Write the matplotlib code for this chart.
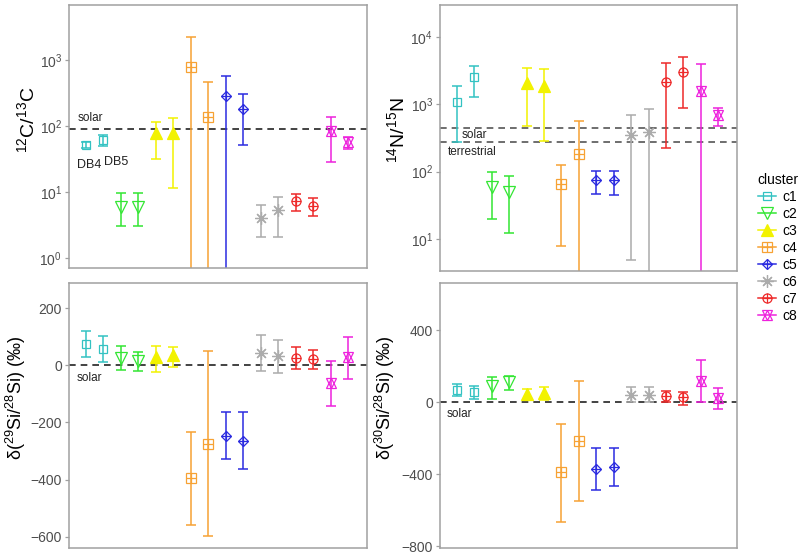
import numpy as np
import matplotlib
matplotlib.use("Agg")
import matplotlib.pyplot as plt
from matplotlib.lines import Line2D
from matplotlib.ticker import LogLocator, NullLocator, LogFormatterSciNotation, MultipleLocator

plt.rcParams['font.family'] = ['Liberation Sans', 'DejaVu Sans']
plt.rcParams['mathtext.fontset'] = 'custom'
plt.rcParams['mathtext.rm'] = 'Liberation Sans'
plt.rcParams['mathtext.it'] = 'Liberation Sans:italic'
plt.rcParams['mathtext.bf'] = 'Liberation Sans:bold'
plt.rcParams['mathtext.default'] = 'regular'

# two grains per cluster
clusters = ['c1', 'c2', 'c3', 'c4', 'c5', 'c6', 'c7', 'c8']
grain_cluster = ['c1', 'c1', 'c2', 'c2', 'c3', 'c3', 'c4', 'c4',
                 'c5', 'c5', 'c6', 'c6', 'c7', 'c7', 'c8', 'c8']

# 12C/13C
c_ratio = [51, 61, 6.0, 6.0, 77, 77, 793, 135, 285, 178, 4.1, 5.3, 7.3, 6.2, 84, 58]
c_lo = [46, 50, 3.1, 3.1, 32, 11.4, 0.1, 0.1, 0.1, 51.5, 2.1, 2.1, 5.2, 4.4, 28, 45]
c_hi = [57, 73, 9.5, 9.5, 116, 134, 2200, 464, 570, 302, 6.3, 8.3, 9.3, 8.1, 138, 69]

# 14N/15N
n_ratio = [1080, 2550, 58, 49, 2070, 1850, 66, 185, 74, 74, 355, 384, 2140, 2990, 1560, 686]
n_lo = [273, 1300, 20, 12, 471, 282, 7.8, 1, 46, 45, 4.9, 1, 222, 890, 1, 471]
n_hi = [1890, 3750, 98, 85, 3510, 3390, 125, 571, 102, 103, 690, 843, 4110, 5050, 4020, 883]

# delta 29Si/28Si (permil)
d29 = [76, 59, 26, 16, 29, 36, -396, -277, -246, -265, 43, 34, 26, 22, -62, 29]
d29_lo = [29, 12, -15, -19, -22, -4, -558, -599, -329, -364, -21, -25, -13, -12, -143, -47]
d29_hi = [122, 102, 67, 47, 67, 63, -232, 50, -162, -164, 107, 89, 63, 55, 14, 98]

# delta 30Si/28Si (permil)
d30 = [70, 56, 89, 111, 48, 52, -390, -213, -371, -358, 39, 43, 33, 30, 117, 24]
d30_lo = [33, 20, 20, 70, 11, 11, -664, -547, -490, -464, 0, 2, 4, -13, 0, -35]
d30_hi = [104, 89, 141, 148, 76, 87, -119, 121, -254, -254, 85, 83, 61, 59, 237, 80]

solar_c = 89
solar_n = 441
terr_n = 272

colors = {'c1': '#33C2C2', 'c2': '#33E633', 'c3': '#F2F200', 'c4': '#F7A234',
          'c5': '#2B2BE0', 'c6': '#ABABAB', 'c7': '#EE2A2A', 'c8': '#EE22DD'}
# (marker, size, filled)
shapes = {'c1': [('s', 6, False)],
          'c2': [('v', 9, False)],
          'c3': [('^', 8, True)],
          'c4': [('s', 6.5, False), ('+', 6.5, False)],
          'c5': [('D', 5.5, False), ('+', 7.5, False)],
          'c6': [((8, 2, 0), 9, False)],
          'c7': [('o', 6.5, False), ('+', 6.5, False)],
          'c8': [('^', 7, False), ('v', 7, False)]}

x = np.arange(1, len(grain_cluster) + 1)

fig = plt.figure(figsize=(8, 5.54), dpi=100)
ax1 = fig.add_axes([69/800, 1-268/554, 298/800, 263/554])
ax2 = fig.add_axes([440/800, 1-271/554, 297/800, 266/554])
ax3 = fig.add_axes([69/800, 1-548/554, 298/800, 265/554])
ax4 = fig.add_axes([440/800, 1-548/554, 297/800, 265/554])


def draw_panel(ax, val, lo, hi):
    val = np.array(val, float)
    lo = np.array(lo, float)
    hi = np.array(hi, float)
    for cl in clusters:
        idx = [i for i, g in enumerate(grain_cluster) if g == cl]
        col = colors[cl]
        ax.errorbar(x[idx], val[idx], yerr=[val[idx]-lo[idx], hi[idx]-val[idx]],
                    fmt='none', ecolor=col, elinewidth=1.1, capsize=3.5, capthick=1.1,
                    zorder=2)
        for m, ms, filled in shapes[cl]:
            ax.plot(x[idx], val[idx], linestyle='none', marker=m, markersize=ms,
                    markeredgecolor=col, markerfacecolor=col if filled else 'none',
                    markeredgewidth=0.9, zorder=3)
    ax.set_xlim(0.03, 17.07)
    ax.set_xticks([])
    for s in ax.spines.values():
        s.set_color('#A0A0A0')
        s.set_linewidth(1.1)
    ax.tick_params(axis='y', colors='#A0A0A0', labelcolor='#4D4D4D',
                   labelsize=10, length=3, width=0.9, pad=2)


draw_panel(ax1, c_ratio, c_lo, c_hi)
ax1.set_yscale('log')
ax1.set_ylim(10**-0.15, 10**3.83)
ax1.axhline(solar_c, color='#222222', ls=(0, (4, 3)), lw=1.2, zorder=1)
ax1.text(0.5, 120, 'solar', fontsize=8.5, color='#222222', va='baseline')
ax1.text(0.49, 23, 'DB4', fontsize=9, color='#222222', va='baseline')
ax1.text(2.05, 25.7, 'DB5', fontsize=9, color='#222222', va='baseline')
ax1.set_ylabel('$^{12}$C/$^{13}$C', fontsize=14)
ax1.yaxis.set_label_coords(-0.105, 0.563)

draw_panel(ax2, n_ratio, n_lo, n_hi)
ax2.set_yscale('log')
ax2.set_ylim(10**0.52, 10**4.48)
ax2.axhline(solar_n, color='#555555', ls=(0, (4, 3)), lw=1.2, zorder=1)
ax2.axhline(terr_n, color='#555555', ls=(0, (4, 3)), lw=1.2, zorder=1)
ax2.text(1.29, 320, 'solar', fontsize=8.5, color='#222222', va='baseline')
ax2.text(0.49, 179, 'terrestrial', fontsize=8.5, color='#222222', va='baseline')
ax2.set_ylabel('$^{14}$N/$^{15}$N', fontsize=14)
ax2.yaxis.set_label_coords(-0.108, 0.53)

for ax in (ax1, ax2):
    ax.yaxis.set_major_locator(LogLocator(base=10, numticks=10))
    ax.yaxis.set_minor_locator(NullLocator())
    ax.yaxis.set_major_formatter(LogFormatterSciNotation())

draw_panel(ax3, d29, d29_lo, d29_hi)
ax3.set_ylim(-640, 289)
ax3.yaxis.set_major_locator(MultipleLocator(200))
ax3.axhline(0, color='#222222', ls=(0, (4, 3)), lw=1.2, zorder=1)
ax3.text(0.49, -56, 'solar', fontsize=8.5, color='#222222', va='baseline')
ax3.set_ylabel('δ($^{29}$Si/$^{28}$Si) (‰)', fontsize=13)
ax3.yaxis.set_label_coords(-0.138, 0.566)

draw_panel(ax4, d30, d30_lo, d30_hi)
ax4.set_ylim(-811, 664)
ax4.yaxis.set_major_locator(MultipleLocator(400))
ax4.axhline(0, color='#222222', ls=(0, (4, 3)), lw=1.2, zorder=1)
ax4.text(0.43, -82, 'solar', fontsize=8.5, color='#222222', va='baseline')
ax4.set_ylabel('δ($^{30}$Si/$^{28}$Si) (‰)', fontsize=13)
ax4.yaxis.set_label_coords(-0.145, 0.566)

# legend
handles = []
for cl in clusters:
    col = colors[cl]
    parts = []
    for k, (m, ms, filled) in enumerate(shapes[cl]):
        parts.append(Line2D([], [], color=col, lw=1.1 if k == 0 else 0,
                            linestyle='-' if k == 0 else 'none',
                            marker=m, markersize=ms, markeredgecolor=col,
                            markerfacecolor=col if filled else 'none',
                            markeredgewidth=0.9))
    handles.append(tuple(parts))
leg = fig.legend(handles, clusters, title='cluster', loc='upper left',
                 bbox_to_anchor=(745/800, 1-160/554), frameon=False,
                 fontsize=10, title_fontsize=10, handlelength=1.3,
                 labelspacing=0.22, handletextpad=0.5, alignment='left')

fig.savefig('out.png', dpi=100)
